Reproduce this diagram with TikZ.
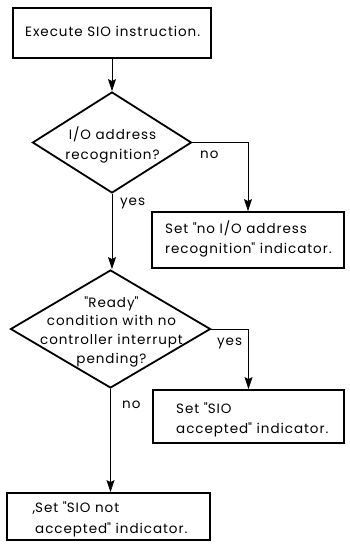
\documentclass[tikz,border=0pt]{standalone}
\usepackage{fontspec}
\setmainfont{Poppins}[LetterSpace=7]
\usetikzlibrary{shapes.geometric,arrows.meta}
\newcommand{\qd}{\textquotedbl}
\begin{document}
\begin{tikzpicture}[x=1pt,y=-1pt,
  every node/.style={font=\fontsize{13.5}{20.5}\selectfont},
  box/.style={draw,line width=1.8pt,rectangle,inner sep=0pt},
  dec/.style={draw,line width=1.8pt,diamond,inner sep=0pt},
  txt/.style={inner sep=0pt,align=left,anchor=west},
  dtxt/.style={inner sep=0pt,align=center},
  arr/.style={line width=0.8pt,-{Stealth[length=12pt,width=8pt,inset=2pt]}},
  lbl/.style={inner sep=0pt,anchor=base west}]
\useasboundingbox (0,0) rectangle (349,548);
% shapes
\node[box,minimum width=198pt,minimum height=49.7pt] (b1) at (111.7,33.2) {};
\node[dec,minimum width=159pt,minimum height=101pt] (d1) at (112,142.5) {};
\node[box,minimum width=192pt,minimum height=56pt] (b2) at (248,240) {};
\node[dec,minimum width=200pt,minimum height=118pt] (d2) at (110.5,329) {};
\node[box,minimum width=191pt,minimum height=53pt] (b3) at (248.5,416.5) {};
\node[box,minimum width=203pt,minimum height=47pt] (b4) at (108.5,516.5) {};
% texts
\node[inner sep=0pt,anchor=base west] (t1) at (25,37) {Execute SIO instruction.};
\node[dtxt] (t2) at (112.5,144.8) {I/O address\\recognition?};
\node[txt] (t3) at (165,238.8) {Set \qd no I/O address\\recognition\qd\ indicator.};
\node[dtxt,font=\fontsize{13.5}{18.7}\selectfont] (t4) at (111.5,331.7) {\qd Ready\qd\\condition with no\\controller interrupt\\pending?};
\node[txt] (t5) at (176,420) {Set \qd SIO\\accepted\qd\ indicator.};
\node[txt] (t6) at (35,519.5) {\llap{,}Set \qd SIO not\\accepted\qd\ indicator.};
% connectors
\draw[arr] (d1.north |- b1.south) -- (d1.north);
\draw[arr] (d1.east) -| (b2.north);
\draw[arr] (d1.south) -- (d1.south |- d2.north);
\draw[arr] (d2.east) -| (b3.north);
\draw[arr] (d2.south) -- (d2.south |- b4.north);
\node[lbl] (l1) at (200,158) {no};
\node[lbl] (l2) at (120,205) {yes};
\node[lbl] (l3) at (217,345) {yes};
\node[lbl] (l4) at (122,408) {no};
\end{tikzpicture}
\end{document}
